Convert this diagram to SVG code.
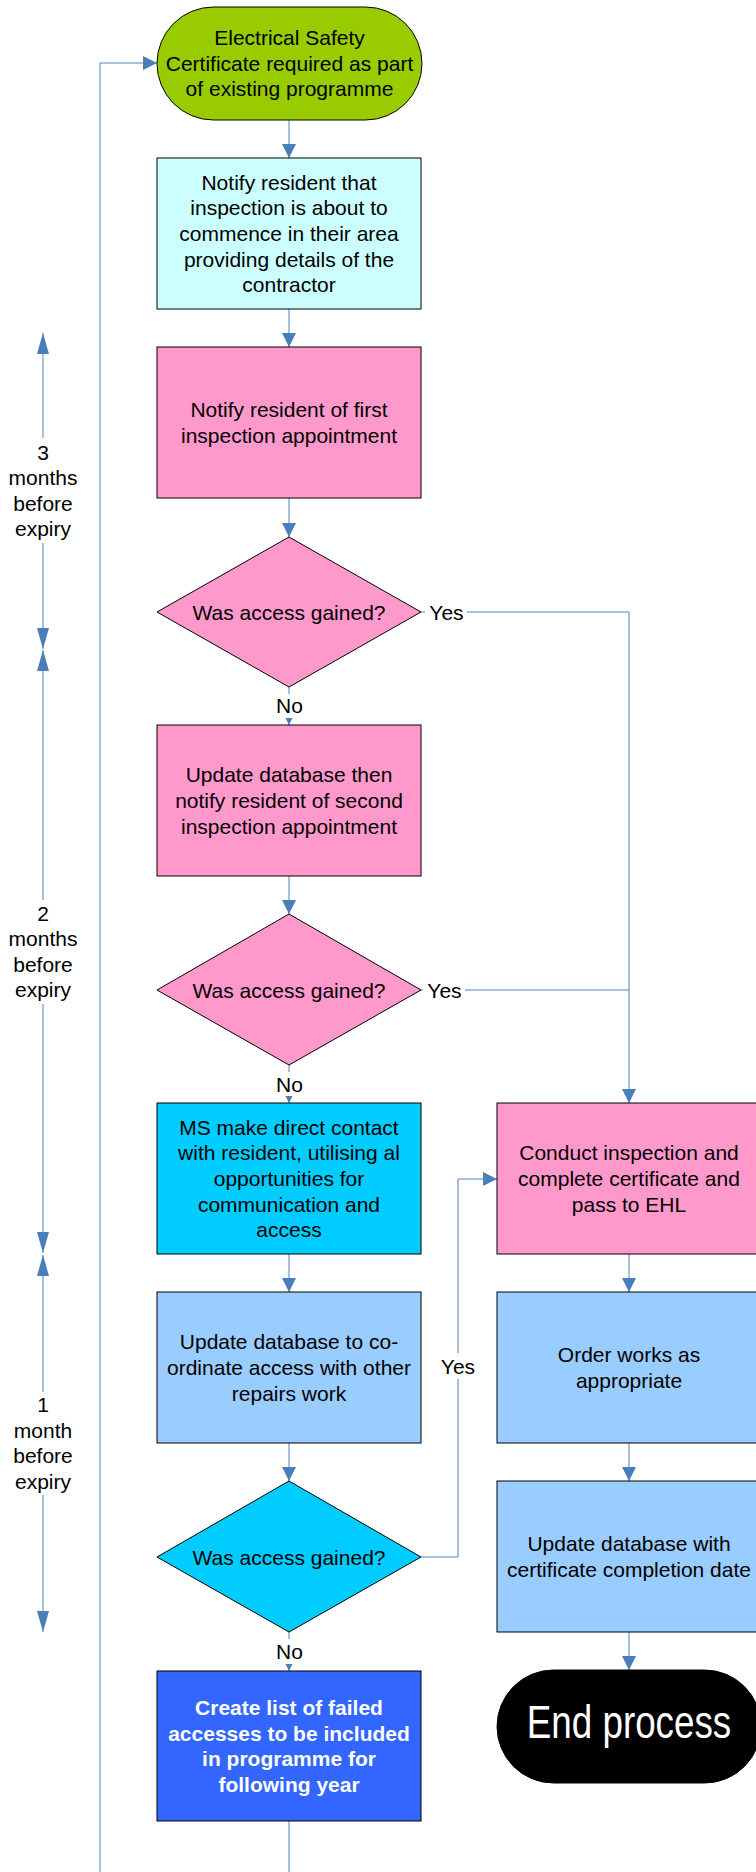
<svg xmlns="http://www.w3.org/2000/svg" width="756" height="1872" viewBox="0 0 756 1872">
<style>
  .t{font-family:"Liberation Sans",Arial,sans-serif;font-size:21px;fill:#000;text-anchor:middle}
  .w{fill:#fff;font-weight:bold}
  .n{stroke:#000;stroke-width:1}
  .c{fill:none;stroke:#4f81bd;stroke-width:1}
  .bg{fill:#fff}
</style>
<defs>
  <marker id="arr" viewBox="0 0 14 14" refX="14" refY="7" markerWidth="14" markerHeight="14" markerUnits="userSpaceOnUse" orient="auto">
    <path d="M0,0 L14,7 L0,14 z" fill="#4a7ebb"/>
  </marker>
  <marker id="tarr" viewBox="0 0 21 12" refX="21" refY="6" markerWidth="21" markerHeight="12" markerUnits="userSpaceOnUse" orient="auto">
    <path d="M0,0 L21,6 L0,12 z" fill="#4a7ebb"/>
  </marker>
</defs>
<rect width="756" height="1872" fill="#fff"/>

<g id="connectors">
  <path class="c" d="M289,120 V158" marker-end="url(#arr)"/>
  <path class="c" d="M289,309 V347" marker-end="url(#arr)"/>
  <path class="c" d="M289,498 V537" marker-end="url(#arr)"/>
  <path class="c" d="M289,687 V725" marker-end="url(#arr)"/>
  <path class="c" d="M289,876 V914" marker-end="url(#arr)"/>
  <path class="c" d="M289,1065 V1103" marker-end="url(#arr)"/>
  <path class="c" d="M289,1254 V1292" marker-end="url(#arr)"/>
  <path class="c" d="M289,1443 V1481" marker-end="url(#arr)"/>
  <path class="c" d="M289,1632 V1671" marker-end="url(#arr)"/>
  <path class="c" d="M289,1821 V1890 H100 V63 H157" marker-end="url(#arr)"/>
  <path class="c" d="M421,612 H629 V1103" marker-end="url(#arr)"/>
  <path class="c" d="M421,990 H629"/>
  <path class="c" d="M421,1557 H458 V1179 H497" marker-end="url(#arr)"/>
  <path class="c" d="M629,1254 V1292" marker-end="url(#arr)"/>
  <path class="c" d="M629,1443 V1481" marker-end="url(#arr)"/>
  <path class="c" d="M629,1632 V1670" marker-end="url(#arr)"/>

  <rect class="bg" x="425" y="600" width="42" height="24"/>
  <text class="t" x="446.5" y="619.5">Yes</text>
  <rect class="bg" x="423" y="978" width="42" height="24"/>
  <text class="t" x="444.5" y="997.5">Yes</text>
  <rect class="bg" x="437" y="1353" width="42" height="26"/>
  <text class="t" x="458" y="1373.5">Yes</text>

  <rect class="bg" x="274" y="694" width="31" height="24"/>
  <text class="t" x="289.5" y="713.3">No</text>
  <rect class="bg" x="274" y="1072" width="31" height="24"/>
  <text class="t" x="289.5" y="1091.5">No</text>
  <rect class="bg" x="274" y="1639" width="31" height="25"/>
  <text class="t" x="289.5" y="1658.5">No</text>
</g>

<g id="timeline">
  <path class="c" d="M43,438 V333" marker-end="url(#tarr)"/>
  <path class="c" d="M43,543 V649" marker-end="url(#tarr)"/>
  <text class="t" x="43"><tspan x="43" y="459.6">3</tspan><tspan x="43" y="485.2">months</tspan><tspan x="43" y="510.8">before</tspan><tspan x="43" y="536.4">expiry</tspan></text>
  <path class="c" d="M43,900 V650" marker-end="url(#tarr)"/>
  <path class="c" d="M43,1004 V1253" marker-end="url(#tarr)"/>
  <text class="t" x="43"><tspan x="43" y="920.6">2</tspan><tspan x="43" y="946.2">months</tspan><tspan x="43" y="971.8">before</tspan><tspan x="43" y="997.4">expiry</tspan></text>
  <path class="c" d="M43,1392 V1255" marker-end="url(#tarr)"/>
  <path class="c" d="M43,1495 V1632" marker-end="url(#tarr)"/>
  <text class="t" x="43"><tspan x="43" y="1412.1">1</tspan><tspan x="43" y="1437.7">month</tspan><tspan x="43" y="1463.3">before</tspan><tspan x="43" y="1488.9">expiry</tspan></text>
</g>

<g id="start">
  <rect class="n" x="157" y="7" width="265" height="113" rx="56.5" ry="56.5" fill="#99cc00"/>
  <text class="t"><tspan x="289.5" y="45">Electrical Safety</tspan><tspan x="289.5" y="70.6">Certificate required as part</tspan><tspan x="289.5" y="96.2">of existing programme</tspan></text>
</g>

<g id="notify-area">
  <rect class="n" x="157" y="158" width="264" height="151" fill="#ccffff"/>
  <text class="t"><tspan x="289" y="189.8">Notify resident that</tspan><tspan x="289" y="215.4">inspection is about to</tspan><tspan x="289" y="241">commence in their area</tspan><tspan x="289" y="266.6">providing details of the</tspan><tspan x="289" y="292.2">contractor</tspan></text>
</g>

<g id="notify-first">
  <rect class="n" x="157" y="347" width="264" height="151" fill="#ff99cc"/>
  <text class="t"><tspan x="289" y="417.2">Notify resident of first</tspan><tspan x="289" y="442.8">inspection appointment</tspan></text>
</g>

<g id="decision-1">
  <polygon class="n" points="289,537 421,612 289,687 157,612" fill="#ff99cc"/>
  <text class="t" x="289" y="619.5">Was access gained?</text>
</g>

<g id="notify-second">
  <rect class="n" x="157" y="725" width="264" height="151" fill="#ff99cc"/>
  <text class="t"><tspan x="289" y="782.4">Update database then</tspan><tspan x="289" y="808">notify resident of second</tspan><tspan x="289" y="833.6">inspection appointment</tspan></text>
</g>

<g id="decision-2">
  <polygon class="n" points="289,914 421,990 289,1065 157,990" fill="#ff99cc"/>
  <text class="t" x="289" y="997.5">Was access gained?</text>
</g>

<g id="ms-contact">
  <rect class="n" x="157" y="1103" width="264" height="151" fill="#00ccff"/>
  <text class="t"><tspan x="289" y="1134.8">MS make direct contact</tspan><tspan x="289" y="1160.4">with resident, utilising al</tspan><tspan x="289" y="1186">opportunities for</tspan><tspan x="289" y="1211.6">communication and</tspan><tspan x="289" y="1237.2">access</tspan></text>
</g>

<g id="coordinate">
  <rect class="n" x="157" y="1292" width="264" height="151" fill="#99ccff"/>
  <text class="t"><tspan x="289" y="1349.4">Update database to co-</tspan><tspan x="289" y="1375">ordinate access with other</tspan><tspan x="289" y="1400.6">repairs work</tspan></text>
</g>

<g id="decision-3">
  <polygon class="n" points="289,1481 421,1557 289,1632 157,1557" fill="#00ccff"/>
  <text class="t" x="289" y="1564.5">Was access gained?</text>
</g>

<g id="failed-list">
  <rect class="n" x="157" y="1671" width="264" height="150" fill="#3366ff"/>
  <text class="t w"><tspan x="289" y="1715.1">Create list of failed</tspan><tspan x="289" y="1740.7">accesses to be included</tspan><tspan x="289" y="1766.3">in programme for</tspan><tspan x="289" y="1791.9">following year</tspan></text>
</g>

<g id="conduct">
  <rect class="n" x="497" y="1103" width="264" height="151" fill="#ff99cc"/>
  <text class="t"><tspan x="629" y="1160.4">Conduct inspection and</tspan><tspan x="629" y="1186">complete certificate and</tspan><tspan x="629" y="1211.6">pass to EHL</tspan></text>
</g>

<g id="order-works">
  <rect class="n" x="497" y="1292" width="264" height="151" fill="#99ccff"/>
  <text class="t"><tspan x="629" y="1362.2">Order works as</tspan><tspan x="629" y="1387.8">appropriate</tspan></text>
</g>

<g id="update-cert">
  <rect class="n" x="497" y="1481" width="264" height="151" fill="#99ccff"/>
  <text class="t"><tspan x="629" y="1551.2">Update database with</tspan><tspan x="629" y="1576.8">certificate completion date</tspan></text>
</g>

<g id="end">
  <rect class="n" x="497" y="1670" width="264" height="113" rx="56.5" ry="56.5" fill="#000"/>
  <text transform="translate(629,1738) scale(0.8,1)" x="0" y="0" font-family="'Liberation Sans',Arial,sans-serif" font-size="46" fill="#fff" text-anchor="middle">End process</text>
</g>
</svg>
